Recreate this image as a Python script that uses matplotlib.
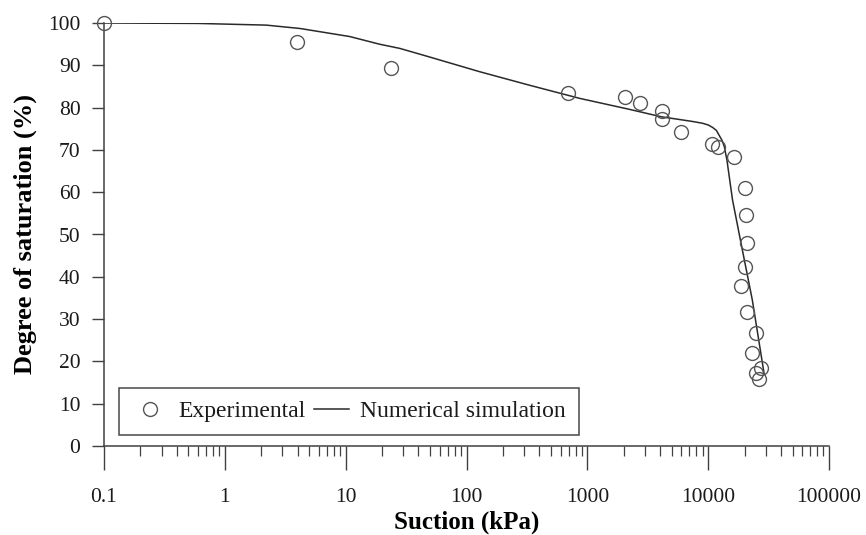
"""Soil-water retention: degree of saturation vs suction (experimental vs simulation)."""
import matplotlib
matplotlib.use("Agg")
import matplotlib.pyplot as plt
from matplotlib.ticker import FixedLocator, LogLocator, NullFormatter

# measured points (kPa, %)
exp_suction = [0.1, 3.99, 23.5, 688, 2060, 2740, 4140, 4140, 6010, 10860, 12100,
               16400, 20100, 20500, 21100, 20100, 18800, 20800, 24700, 23200,
               27200, 25000, 26400]
exp_sat = [100, 95.6, 89.3, 83.4, 82.6, 81.2, 79.2, 77.3, 74.3, 71.4, 70.6,
           68.4, 61.0, 54.6, 47.9, 42.4, 37.8, 31.6, 26.6, 21.9,
           18.4, 17.3, 15.8]

# simulated curve
sim_suction = [0.1, 0.6, 2.2, 4.2, 10.8, 19, 28, 49, 128, 331, 859, 2220, 4140,
               5750, 7500, 8970, 10000, 10900, 11700, 12300, 13000, 13600,
               14300, 15900, 19200, 23200, 29000]
sim_sat = [100, 99.9, 99.5, 98.7, 96.8, 95.0, 94.0, 92.0, 88.5, 85.3, 82.2,
           79.6, 77.8, 77.2, 76.7, 76.3, 75.9, 75.3, 74.6, 73.5, 72.3, 70.8,
           67.6, 58.2, 46.3, 34.5, 17.2]

x_ticks = [0.1, 1, 10, 100, 1000, 10000, 100000]
x_ticklabels = ["0.1", "1", "10", "100", "1000", "10000", "100000"]
y_ticks = [0, 10, 20, 30, 40, 50, 60, 70, 80, 90, 100]

plt.rcParams["font.family"] = ["Liberation Serif", "DejaVu Serif"]
plt.rcParams["text.color"] = "#1a1a1a"

fig = plt.figure(figsize=(8.66, 5.35), dpi=100)
ax = fig.add_axes([104 / 866, 89 / 535, 725 / 866, 423 / 535])

ax.plot(sim_suction, sim_sat, "-", color="#2a2a2a", lw=1.1,
        label="Numerical simulation", zorder=2)
ax.plot(exp_suction, exp_sat, "o", ms=10, mfc="none", mec="#555555", mew=1.0,
        label="Experimental", clip_on=False, zorder=3)

ax.set_xscale("log")
ax.set_xlim(0.1, 100000)
ax.set_ylim(0, 100)

ax.xaxis.set_major_locator(FixedLocator(x_ticks))
ax.set_xticklabels(x_ticklabels)
ax.xaxis.set_minor_locator(LogLocator(base=10, subs=range(2, 10), numticks=20))
ax.xaxis.set_minor_formatter(NullFormatter())
ax.set_yticks(y_ticks)

for side in ("top", "right"):
    ax.spines[side].set_visible(False)
for side in ("left", "bottom"):
    ax.spines[side].set_color("#404040")
    ax.spines[side].set_linewidth(1.1)

ax.tick_params(axis="x", which="major", direction="out", length=17, width=1.0,
               color="#404040", labelsize=15.5, pad=13, labelcolor="#1a1a1a")
ax.tick_params(axis="x", which="minor", direction="out", length=7.5, width=0.9,
               color="#404040")
ax.tick_params(axis="y", which="major", direction="out", length=9, width=1.0,
               color="#404040", labelsize=15.5, pad=8, labelcolor="#1a1a1a")

ax.set_xlabel("Suction (kPa)", fontsize=18, fontweight="bold")
ax.set_ylabel("Degree of saturation (%)", fontsize=19, fontweight="bold")
ax.xaxis.set_label_coords(0.5, -0.153)
ax.yaxis.set_label_coords(-0.0924, 0.5)

h, l = ax.get_legend_handles_labels()
leg = ax.legend(h[::-1], l[::-1], ncol=2, loc="lower left",
                bbox_to_anchor=(0.0207, 0.026), borderaxespad=0,
                fontsize=17, frameon=True, fancybox=False, handlelength=1.5,
                handletextpad=0.47, columnspacing=0.34, borderpad=0.55)
leg.get_frame().set_edgecolor("#1a1a1a")
leg.get_frame().set_linewidth(1.1)

fig.savefig("out.png", dpi=100)
